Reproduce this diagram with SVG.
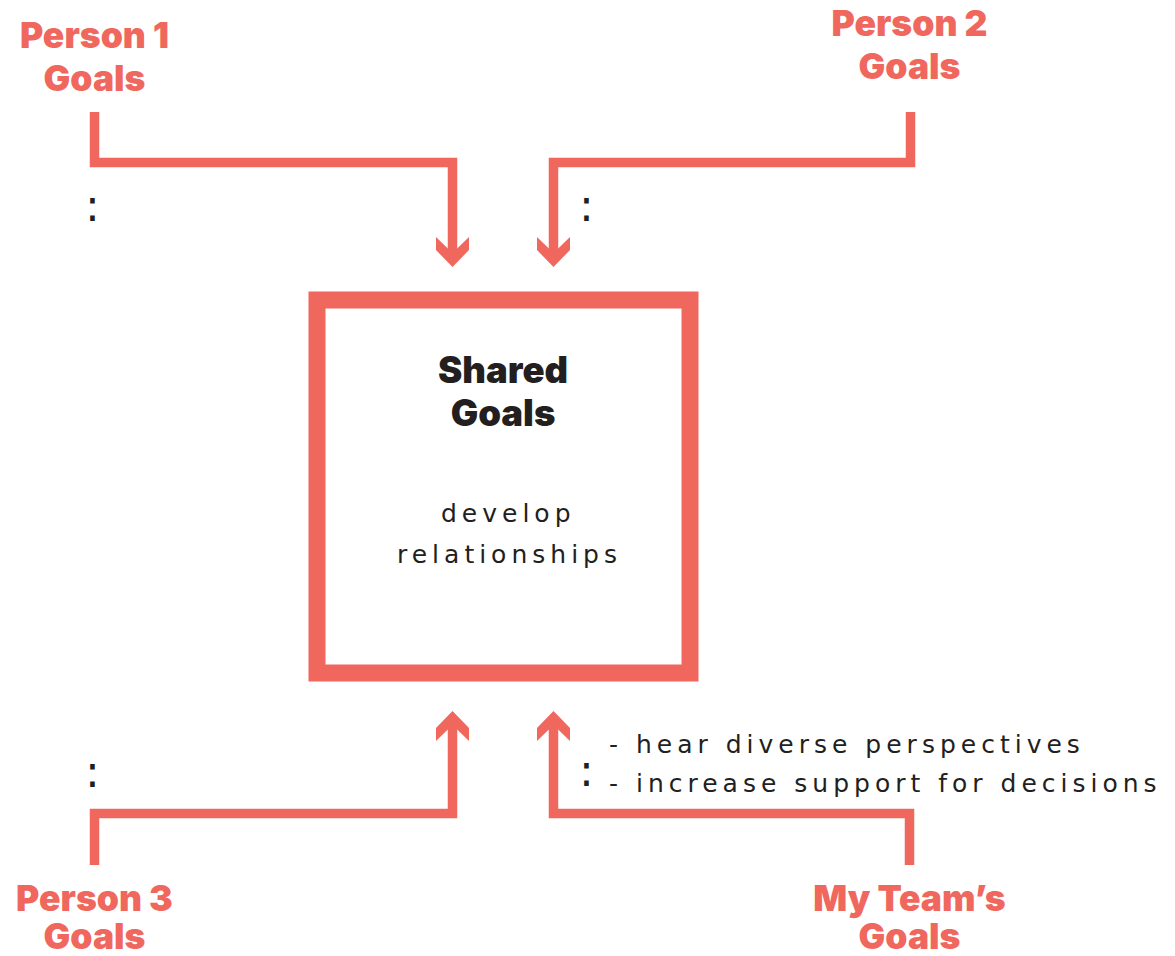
<svg xmlns="http://www.w3.org/2000/svg" xmlns:xlink="http://www.w3.org/1999/xlink" width="1175" height="956" viewBox="0 0 1175 956">
  <style>
    .label { font-family: Inter, "Lato", "Liberation Sans", sans-serif; font-weight: 900; font-size: 35.5px; fill: #F0675E; text-anchor: middle; }
    .title { font-family: Inter, "Lato", "Liberation Sans", sans-serif; font-weight: 900; font-size: 36.5px; fill: #231F20; text-anchor: middle; }
    .hand { font-family: "DejaVu Sans", sans-serif; font-weight: normal; font-size: 25px; fill: #231F20; letter-spacing: 5px; }
    .dots { font-family: "DejaVu Sans", sans-serif; font-weight: normal; font-size: 44px; fill: #231F20; text-anchor: middle; }
    .wire { fill: none; stroke: #F0675E; stroke-width: 9.5; stroke-linejoin: miter; stroke-linecap: butt; }
    .head { fill: #F0675E; }
    .box { fill: #FFFFFF; stroke: #F0675E; stroke-width: 17; }
  </style>
  <defs>
    <!-- chevron arrowheads, tip at origin -->
    <polygon id="headDown" points="-16.5,-30 0,-14 16.5,-30 16.5,-17 0,0 -16.5,-17"/>
    <polygon id="headUp" points="-16.5,30 0,14 16.5,30 16.5,17 0,0 -16.5,17"/>
  </defs>
  <rect width="1175" height="956" fill="#FFFFFF"/>

  <g id="connectors">
    <path class="wire" d="M94.5,112 V162.5 H452.5 V256"/>
    <path class="wire" d="M910.5,112 V162.5 H553.5 V256"/>
    <path class="wire" d="M94.5,865 V813.5 H452.5 V722"/>
    <path class="wire" d="M909.5,865 V813.5 H553.5 V722"/>
    <use class="head" xlink:href="#headDown" x="452.5" y="267"/>
    <use class="head" xlink:href="#headDown" x="553.5" y="267"/>
    <use class="head" xlink:href="#headUp" x="452.5" y="711"/>
    <use class="head" xlink:href="#headUp" x="553.5" y="711"/>
  </g>

  <g id="shared-goals">
    <rect class="box" x="317" y="300" width="373" height="373"/>
    <text class="title" x="503" y="383">Shared</text>
    <text class="title" x="503" y="426">Goals</text>
    <text class="hand" x="441" y="522">develop</text>
    <text class="hand" x="397" y="563">relationships</text>
  </g>

  <g id="person-1">
    <text class="label" x="94.5" y="48">Person 1</text>
    <text class="label" x="94.5" y="91">Goals</text>
    <text class="dots" x="92.5" y="221">:</text>
  </g>

  <g id="person-2">
    <text class="label" x="909.5" y="36">Person 2</text>
    <text class="label" x="909.5" y="79">Goals</text>
    <text class="dots" x="586.5" y="221">:</text>
  </g>

  <g id="person-3">
    <text class="label" x="94.5" y="911">Person 3</text>
    <text class="label" x="94.5" y="949">Goals</text>
    <text class="dots" x="92.5" y="787">:</text>
  </g>

  <g id="my-team">
    <text class="label" x="909.5" y="911">My Team’s</text>
    <text class="label" x="909.5" y="949">Goals</text>
    <text class="dots" x="586.5" y="786">:</text>
    <text class="hand" x="609" y="753">- hear diverse perspectives</text>
    <text class="hand" x="609" y="792">- increase support for decisions</text>
  </g>
</svg>
